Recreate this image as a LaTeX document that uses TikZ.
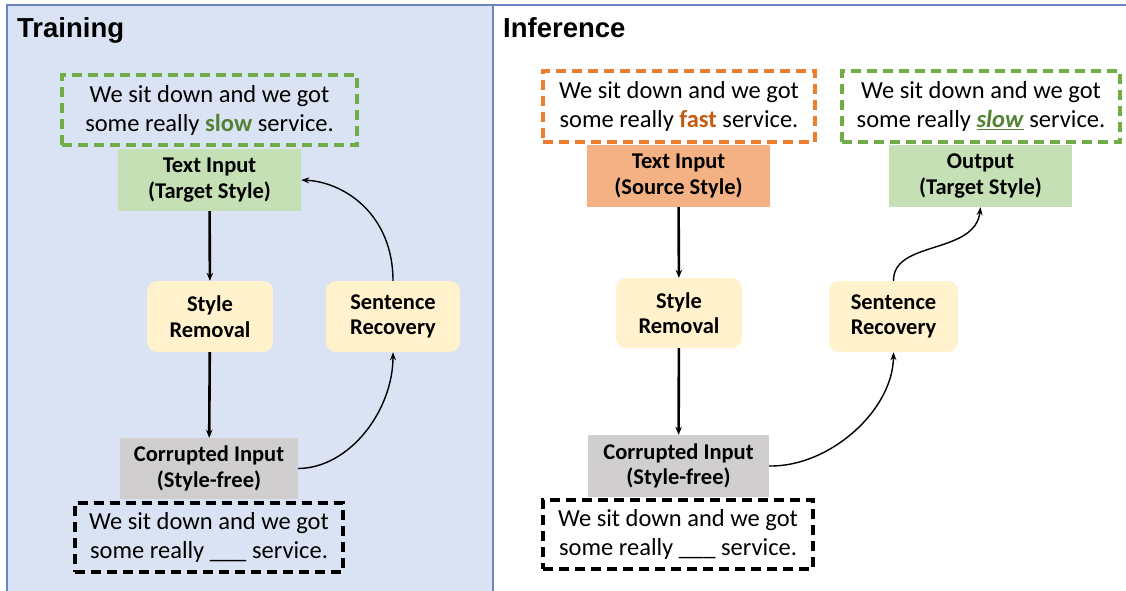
\documentclass[tikz,border=0pt]{standalone}
\usepackage{fontspec}
\setmainfont{Carlito}
\newfontfamily\titlefont{Liberation Sans}
\usetikzlibrary{arrows.meta}
\definecolor{panelfill}{HTML}{DAE3F3}
\definecolor{panelline}{HTML}{6A86BC}
\definecolor{dgreen}{HTML}{70AD47}
\definecolor{dorange}{HTML}{ED7D31}
\definecolor{fgreen}{HTML}{C5E0B4}
\definecolor{forange}{HTML}{F4B183}
\definecolor{fyellow}{HTML}{FFF2CC}
\definecolor{fgray}{HTML}{D0CECE}
\definecolor{wgreen}{HTML}{548235}
\definecolor{worange}{HTML}{C55A11}
\tikzset{
  sentbox/.style={draw=#1, line width=3.2pt, dash pattern=on 10pt off 6pt, inner sep=0pt, align=center,
    font=\fontsize{24.5}{29}\selectfont},
  labelbox/.style={fill=#1, inner sep=0pt, align=center, font=\fontsize{22.5}{25.5}\selectfont\bfseries},
  procbox/.style={fill=fyellow, rounded corners=10pt, inner sep=0pt, align=center, font=\fontsize{22.5}{25.5}\selectfont\bfseries},
  titletext/.style={anchor=base west, inner sep=0pt, font=\titlefont\bfseries\fontsize{27.5}{30}\selectfont},
  thickarrow/.style={line width=2.6pt, -{Stealth[length=8pt,width=6.5pt]}},
  thinarrow/.style={line width=1.4pt, -{Stealth[length=8pt,width=6pt]}}
}
\begin{document}
\begin{tikzpicture}[x=1pt,y=-1pt]
\useasboundingbox (0,0) rectangle (1126,590);
% panels
\fill[panelfill] (7,5) rectangle (493,600);
\draw[panelline, line width=1.6pt] (7,600) -- (7,5) -- (1130,5);
\draw[panelline, line width=1.6pt] (493,5) -- (493,600);
% titles
\node[titletext] (t1) at (17,37) {Training};
\node[titletext] (t2) at (503,37) {Inference};
% ---- Training ----
\node[sentbox=dgreen, minimum width=295pt, minimum height=70pt] (dg1) at (209.5,110)
  {We sit down and we got\\some really \textcolor{wgreen}{\textbf{slow}} service.};
\node[labelbox=fgreen, minimum width=183pt, minimum height=62pt] (ti1) at (209.5,180)
  {Text Input\\(Target Style)};
\node[procbox, minimum width=126pt, minimum height=71pt] (sr1) at (210,316.5)
  {Style\\Removal};
\node[procbox, minimum width=134pt, minimum height=71pt] (rec1) at (393,316.5)
  {Sentence\\Recovery};
\node[labelbox=fgray, minimum width=178pt, minimum height=61pt] (ci1) at (209,468.5)
  {Corrupted Input\\(Style-free)};
\node[sentbox=black, minimum width=268pt, minimum height=69pt] (db1) at (209,537.5)
  {We sit down and we got\\some really \_\_\_ service.};
\draw[thickarrow] (ti1) -- (sr1);
\draw[thickarrow] (sr1) -- (ci1);
\draw[thinarrow] (ci1.east) .. controls (350,468) and (393,410) .. (rec1.south);
\draw[thinarrow] (rec1.north) .. controls (393,215) and (345,182) .. (ti1.east);
% ---- Inference ----
\node[sentbox=dorange, minimum width=272pt, minimum height=71pt] (do2) at (679,106.5)
  {We sit down and we got\\some really \textcolor{worange}{\textbf{fast}} service.};
\node[labelbox=forange, minimum width=183pt, minimum height=62pt] (ti2) at (678.5,176)
  {Text Input\\(Source Style)};
\node[sentbox=dgreen, minimum width=278pt, minimum height=71pt] (dg2) at (981,106.5)
  {We sit down and we got\\some really \textcolor{wgreen}{\underline{\textbf{\textit{slow}}}} service.};
\node[labelbox=fgreen, minimum width=183pt, minimum height=62pt] (out) at (980.5,176)
  {Output\\(Target Style)};
\node[procbox, minimum width=126pt, minimum height=70pt] (sr2) at (679,313)
  {Style\\Removal};
\node[procbox, minimum width=129pt, minimum height=71pt] (rec2) at (893.5,316.5)
  {Sentence\\Recovery};
\node[labelbox=fgray, minimum width=181pt, minimum height=62pt] (ci2) at (678.5,466)
  {Corrupted Input\\(Style-free)};
\node[sentbox=black, minimum width=270pt, minimum height=69pt] (db2) at (678,534.5)
  {We sit down and we got\\some really \_\_\_ service.};
\draw[thickarrow] (ti2) -- (sr2);
\draw[thickarrow] (sr2) -- (ci2);
\draw[thinarrow] (ci2.east) .. controls (830,467) and (893,410) .. (rec2.south);
\draw[thinarrow] (rec2.north) .. controls (893,240) and (975,255) .. (out.south);
\end{tikzpicture}
\end{document}
